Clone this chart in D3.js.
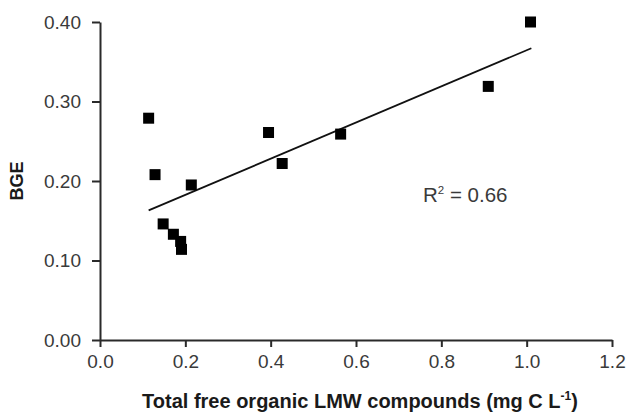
<!DOCTYPE html>
<html>
<head>
<meta charset="utf-8">
<script src="https://cdn.jsdelivr.net/npm/d3@7"></script>
<style>
  body { margin: 0; background: #fff; }
  svg { display: block; }
  .tick text { font-family: "Liberation Sans", Arial, sans-serif; font-size: 19px; fill: #3a3a3a; }
</style>
</head>
<body>
<svg id="chart" width="628" height="413"></svg>
<script>
// Data
const lmw = [1.009, 0.910, 0.114, 0.129, 0.214, 0.395, 0.427, 0.564, 0.148, 0.172, 0.189, 0.191];
const bge = [0.400, 0.319, 0.279, 0.208, 0.195, 0.261, 0.222, 0.259, 0.146, 0.133, 0.124, 0.114];
const fitX = [0.114, 1.011];
const fitY = [0.163, 0.367];
const xTicks = [0, 0.2, 0.4, 0.6, 0.8, 1.0, 1.2];
const yTicks = [0, 0.1, 0.2, 0.3, 0.4];
const r2Label = "0.66";

const svg = d3.select("#chart");
const mLeft = 100, mRight = 612, mTop = 22, mBottom = 340;

const x = d3.scaleLinear().domain([0, 1.2]).range([mLeft, mRight]);
const y = d3.scaleLinear().domain([0, 0.4]).range([mBottom, mTop]);

const font = '"Liberation Sans", Arial, sans-serif';

const xAxis = svg.append("g")
  .attr("transform", `translate(0,${mBottom})`)
  .call(d3.axisBottom(x).tickValues(xTicks).tickFormat(d3.format(".1f")).tickSizeInner(7).tickSizeOuter(0).tickPadding(8));
const yAxis = svg.append("g")
  .attr("transform", `translate(${mLeft},0)`)
  .call(d3.axisLeft(y).tickValues(yTicks).tickFormat(d3.format(".2f")).tickSizeInner(8).tickSizeOuter(0).tickPadding(11));

[xAxis, yAxis].forEach(g => {
  g.selectAll("path.domain").attr("stroke", "#2a2a2a").attr("stroke-width", 2);
  g.selectAll(".tick line").attr("stroke", "#2a2a2a").attr("stroke-width", 2);
});

// regression line
svg.append("line")
  .attr("x1", x(fitX[0])).attr("y1", y(fitY[0]))
  .attr("x2", x(fitX[1])).attr("y2", y(fitY[1]))
  .attr("stroke", "#111").attr("stroke-width", 1.8);

// points
const pts = lmw.map((v, i) => ({ x: v, y: bge[i] }));
const s = 11;
svg.append("g").selectAll("rect").data(pts).join("rect")
  .attr("x", d => x(d.x) - s / 2)
  .attr("y", d => y(d.y) - s / 2)
  .attr("width", s).attr("height", s)
  .attr("fill", "#000");

// R² label
const r2 = svg.append("text")
  .attr("x", 423).attr("y", 202)
  .attr("font-family", font).attr("font-size", 20.5).attr("fill", "#3a3a3a");
r2.append("tspan").text("R");
r2.append("tspan").attr("dy", -8).attr("font-size", 11.5).text("2");
r2.append("tspan").attr("dy", 8).text(" = " + r2Label);

// axis titles
const xt = svg.append("text")
  .attr("x", 360).attr("y", 408)
  .attr("text-anchor", "middle")
  .attr("font-family", font).attr("font-size", 20).attr("font-weight", "bold").attr("fill", "#1a1a1a");
xt.append("tspan").text("Total free organic LMW compounds (mg C L");
xt.append("tspan").attr("dy", -8).attr("font-size", 12).text("-1");
xt.append("tspan").attr("dy", 8).text(")");

svg.append("text")
  .attr("transform", `translate(23,${(mTop + mBottom) / 2}) rotate(-90)`)
  .attr("text-anchor", "middle")
  .attr("font-family", font).attr("font-size", 18).attr("font-weight", "bold").attr("fill", "#1a1a1a")
  .text("BGE");
</script>
</body>
</html>
